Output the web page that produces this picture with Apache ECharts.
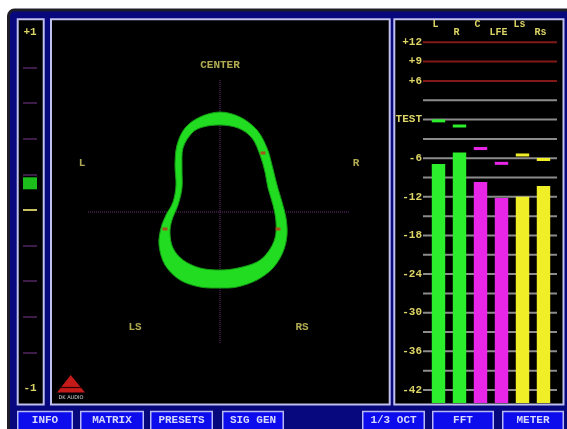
<!DOCTYPE html>
<html><head><meta charset="utf-8">
<script src="https://cdn.jsdelivr.net/npm/echarts@6/dist/echarts.min.js"></script>
<style>html,body{margin:0;padding:0;background:#fff;}#c{width:567px;height:429px;}</style>
</head><body><div id="c"></div>
<script>
// ---------------- data ----------------
// 5.1 level meter (dBFS relative to TEST level)
const channels = ['L', 'R', 'C', 'LFE', 'Ls', 'Rs'];
const levels = [-6.9, -5.1, -9.7, -12.2, -12.0, -10.3];
const peaks = [-0.2, -1.0, -4.5, -6.8, -5.5, -6.2];
const scaleTickValues = [12, 9, 6, 0, -6, -12, -18, -24, -30, -36, -42];
const scaleTickLabels = ['+12', '+9', '+6', 'TEST', '-6', '-12', '-18', '-24', '-30', '-36', '-42'];
const gridLevels = [12, 9, 6, 3, 0, -3, -6, -9, -12, -15, -18, -21, -24, -27, -30, -33, -36, -39, -42];
const overLines = [12, 9, 6];

// phase correlation meter
const correlation = 0.15;
const corrTickValues = [1, -1];
const corrTickLabels = ['+1', '-1'];

// surround vectorscope trace (normalised units)
const outerTrace = [[0,1.00],[0.20,0.95],[0.37,0.82],[0.47,0.64],[0.52,0.47],[0.57,0.27],[0.62,0.10],[0.66,-0.06],
  [0.67,-0.23],[0.63,-0.40],[0.53,-0.56],[0.37,-0.68],[0.17,-0.75],[0,-0.76],[-0.20,-0.75],[-0.40,-0.68],
  [-0.55,-0.53],[-0.61,-0.33],[-0.59,-0.16],[-0.54,-0.03],[-0.47,0.10],[-0.44,0.27],[-0.45,0.47],[-0.43,0.67],
  [-0.35,0.84],[-0.20,0.95]];
const innerTrace = [[0,0.87],[0.18,0.84],[0.32,0.74],[0.40,0.57],[0.45,0.40],[0.48,0.24],[0.53,0.07],[0.56,-0.10],
  [0.55,-0.26],[0.48,-0.40],[0.37,-0.50],[0.18,-0.56],[0,-0.58],[-0.20,-0.56],[-0.37,-0.48],[-0.47,-0.36],
  [-0.50,-0.21],[-0.48,-0.08],[-0.42,0.07],[-0.38,0.24],[-0.38,0.44],[-0.37,0.64],[-0.28,0.79],[-0.17,0.85]];
const markerPoints = [[-0.55,-0.17],[0.58,-0.17],[0.43,0.59]];
const speakerNames = ['CENTER', 'L', 'R', 'LS', 'RS'];
const speakerPos = [[0,1.47],[-1.38,0.49],[1.36,0.49],[-0.85,-1.15],[0.82,-1.15]];
const crossH = [[-1.32,0],[1.30,0]];
const crossV = [[0,1.32],[0,-1.32]];

const buttonLabels = ['INFO', 'MATRIX', 'PRESETS', 'SIG GEN', '1/3 OCT', 'FFT', 'METER'];

// ---------------- style / layout ----------------
const YEL = '#dcd466';
const MONO = '"Liberation Mono", "DejaVu Sans Mono", monospace';
const barColors = ['#2cee2c', '#2cee2c', '#e826e8', '#e826e8', '#f0ee26', '#f0ee26'];
const NAVY = '#07077e';
const BORDER = '#c0c0ee';
const PXDB = (390 - 42.3) / 54;
const Y12 = 42.3;
const yOf = v => Y12 + (12 - v) * PXDB;

const buttonBoxes = [[17,73],[80,144],[150,213],[222,284],[362,425],[432,494],[502,564]];

const graphics = [
  {type:'rect', z:1, shape:{x:8.5, y:10, width:570, height:430, r:6}, style:{fill:NAVY, stroke:'#1e1e2a', lineWidth:3}},
  {type:'rect', z:1, shape:{x:17.7, y:19.3, width:26, height:385.2}, style:{fill:'#000', stroke:BORDER, lineWidth:2}},
  {type:'rect', z:1, shape:{x:51, y:19.3, width:338.7, height:385.2}, style:{fill:'#000', stroke:BORDER, lineWidth:2}},
  {type:'rect', z:1, shape:{x:394.3, y:19.3, width:169.2, height:385.2}, style:{fill:'#000', stroke:BORDER, lineWidth:2}},
  {type:'polygon', z:1, shape:{points:[[70.7,375],[57,392.5],[85,392.5]]}, style:{fill:'#c41a1a'}},
  {type:'line', z:1, shape:{x1:60, y1:387.5, x2:82, y2:387.5}, style:{stroke:'#300', lineWidth:1.2}},
  {type:'text', z:1, style:{x:71, y:398, text:'DK AUDIO', fill:'#d8d8d8', font:'5px "DejaVu Sans"', align:'center', verticalAlign:'middle'}}
];
buttonLabels.forEach((t, i) => {
  const b = buttonBoxes[i];
  graphics.push({type:'rect', z:1, shape:{x:b[0]+0.75, y:411.5, width:b[1]-b[0]-1.5, height:20},
    style:{fill:'#0c0cec', stroke:'#b8b8f4', lineWidth:1.5}});
  graphics.push({type:'text', z:1, style:{x:(b[0]+b[1])/2, y:420.5, text:t, fill:'#d8d8ff',
    font:'bold 11px ' + MONO, align:'center', verticalAlign:'middle'}});
});

function smoothClosed(pts) {
  const n = pts.length;
  let d = 'M' + pts[0][0] + ' ' + pts[0][1];
  for (let i = 0; i < n; i++) {
    const p0 = pts[(i - 1 + n) % n], p1 = pts[i], p2 = pts[(i + 1) % n], p3 = pts[(i + 2) % n];
    const c1x = p1[0] + (p2[0] - p0[0]) / 6, c1y = p1[1] + (p2[1] - p0[1]) / 6;
    const c2x = p2[0] - (p3[0] - p1[0]) / 6, c2y = p2[1] - (p3[1] - p1[1]) / 6;
    d += ' C' + c1x + ' ' + c1y + ' ' + c2x + ' ' + c2y + ' ' + p2[0] + ' ' + p2[1];
  }
  return d + ' Z';
}

const option = {
  animation: false,
  backgroundColor: '#ffffff',
  graphic: {elements: graphics},
  grid: [
    {left: 23, top: 32, width: 14, height: 356},                               // correlation
    {left: 51, top: 18, width: 338, height: 387},                              // vectorscope
    {left: 423, top: yOf(15), width: 134, height: 60 * PXDB},                  // dB scale
    {left: 428, top: yOf(13), width: 126, height: 57 * PXDB}                   // bars
  ],
  xAxis: [
    {gridIndex: 0, type: 'value', min: -1, max: 1, show: false},
    {gridIndex: 1, type: 'value', min: -1.69, max: 1.69, show: false},
    {gridIndex: 2, type: 'value', min: 0, max: 1, show: false},
    {gridIndex: 3, type: 'category', data: channels, position: 'top', z: 3,
      axisLine: {show: false}, axisTick: {show: false}, splitLine: {show: false},
      axisLabel: {interval: 0, margin: 11, verticalAlign: 'middle', color: YEL, fontFamily: MONO, fontWeight: 'bold', fontSize: 10,
        padding: [0, 6, 0, 0], formatter: (v, i) => i % 2 === 0 ? v : ''}},
    {gridIndex: 3, type: 'category', data: channels, position: 'top', z: 3,
      axisLine: {show: false}, axisTick: {show: false}, splitLine: {show: false},
      axisLabel: {interval: 0, margin: 3, verticalAlign: 'middle', color: YEL, fontFamily: MONO, fontWeight: 'bold', fontSize: 10,
        padding: [0, 6, 0, 0], formatter: (v, i) => i % 2 === 1 ? v : ''}}
  ],
  yAxis: [
    {gridIndex: 0, type: 'value', min: -1, max: 1, interval: 0.2, z: 3,
      axisLine: {show: false}, axisTick: {show: false},
      splitLine: {show: true, showMinLine: false, showMaxLine: false, lineStyle: {color: '#3e1c4a', width: 2}},
      axisLabel: {inside: true, margin: 7, align: 'center', color: YEL, fontFamily: MONO, fontWeight: 'bold', fontSize: 11,
        formatter: v => { const k = corrTickValues.indexOf(Math.round(v * 10) / 10); return k >= 0 ? corrTickLabels[k] : ''; }}},
    {gridIndex: 1, type: 'value', min: -1.93, max: 1.94, show: false},
    {gridIndex: 2, type: 'value', min: -45, max: 15, interval: 3, z: 3,
      axisLine: {show: false}, axisTick: {show: false}, splitLine: {show: false},
      axisLabel: {margin: 1, color: YEL, fontFamily: MONO, fontWeight: 'bold', fontSize: 11,
        formatter: v => { const k = scaleTickValues.indexOf(v); return k >= 0 ? scaleTickLabels[k] : ''; }}},
    {gridIndex: 3, type: 'value', min: -44, max: 13, show: false}
  ],
  series: [
    // correlation indicator
    {type: 'scatter', xAxisIndex: 0, yAxisIndex: 0, z: 5, symbol: 'rect', symbolSize: [14, 12],
      itemStyle: {color: '#22ee22'}, data: [[0, correlation]], silent: true,
      markLine: {silent: true, symbol: ['none', 'none'], label: {show: false},
        lineStyle: {color: '#c8c060', width: 2, type: 'solid'}, data: [{yAxis: 0}]}},
    // crosshair
    {type: 'line', xAxisIndex: 1, yAxisIndex: 1, z: 3, symbol: 'none', data: crossH,
      lineStyle: {color: '#6a3078', width: 1, type: 'dotted'}},
    {type: 'line', xAxisIndex: 1, yAxisIndex: 1, z: 3, symbol: 'none', data: crossV,
      lineStyle: {color: '#6a3078', width: 1, type: 'dotted'}},
    // vectorscope trace band
    {type: 'custom', xAxisIndex: 1, yAxisIndex: 1, z: 4, data: [[0, 0]],
      renderItem: (params, api) => {
        const o = outerTrace.map(p => api.coord(p));
        const inn = innerTrace.map(p => api.coord(p)).reverse();
        return {type: 'group', children: [
          {type: 'path', shape: {pathData: smoothClosed(o) + ' ' + smoothClosed(inn)},
            style: {fill: '#22dc22', stroke: '#149c14', lineWidth: 1}}
        ]};
      }},
    // markers on trace
    {type: 'scatter', xAxisIndex: 1, yAxisIndex: 1, z: 6, symbol: 'rect', symbolSize: [5, 3],
      itemStyle: {color: '#c8301c'}, data: markerPoints},
    // speaker labels
    {type: 'scatter', xAxisIndex: 1, yAxisIndex: 1, z: 6, symbolSize: 0,
      data: speakerNames.map((n, i) => ({name: n, value: speakerPos[i]})),
      label: {show: true, position: 'inside', formatter: '{b}', color: YEL, fontFamily: MONO, fontWeight: 'bold', fontSize: 11}},
    // scale grid lines (red over-level, grey otherwise)
    {type: 'custom', xAxisIndex: 2, yAxisIndex: 2, z: 3, data: gridLevels.map(v => [0, v]),
      renderItem: (params, api) => {
        const v = api.value(1);
        const a = api.coord([0, v]), b = api.coord([1, v]);
        const red = overLines.indexOf(v) >= 0;
        return {type: 'line', shape: {x1: a[0], y1: a[1], x2: b[0], y2: b[1]},
          style: {stroke: red ? '#821818' : '#8c8c8c', lineWidth: 2}};
      }},
    // level bars
    {type: 'custom', xAxisIndex: 3, yAxisIndex: 3, z: 5, data: levels.map((v, i) => [i, v]),
      renderItem: (params, api) => {
        const i = api.value(0);
        const top = api.coord([i, api.value(1)]), bot = api.coord([i, -44]);
        const w = api.size([1, 0])[0] * 0.64;
        return {type: 'rect', shape: {x: top[0] - w / 2, y: top[1], width: w, height: bot[1] - top[1]},
          style: {fill: barColors[params.dataIndex]}};
      }},
    // peak holds
    {type: 'custom', xAxisIndex: 3, yAxisIndex: 3, z: 5, data: peaks.map((v, i) => [i, v]),
      renderItem: (params, api) => {
        const i = api.value(0);
        const p = api.coord([i, api.value(1)]);
        const w = api.size([1, 0])[0] * 0.64;
        return {type: 'rect', shape: {x: p[0] - w / 2, y: p[1] - 1.5, width: w, height: 3},
          style: {fill: barColors[params.dataIndex]}};
      }}
  ]
};

const chart = echarts.init(document.getElementById('c'), null, {renderer: 'canvas', width: 567, height: 429});
chart.setOption(option);
</script>
</body></html>
